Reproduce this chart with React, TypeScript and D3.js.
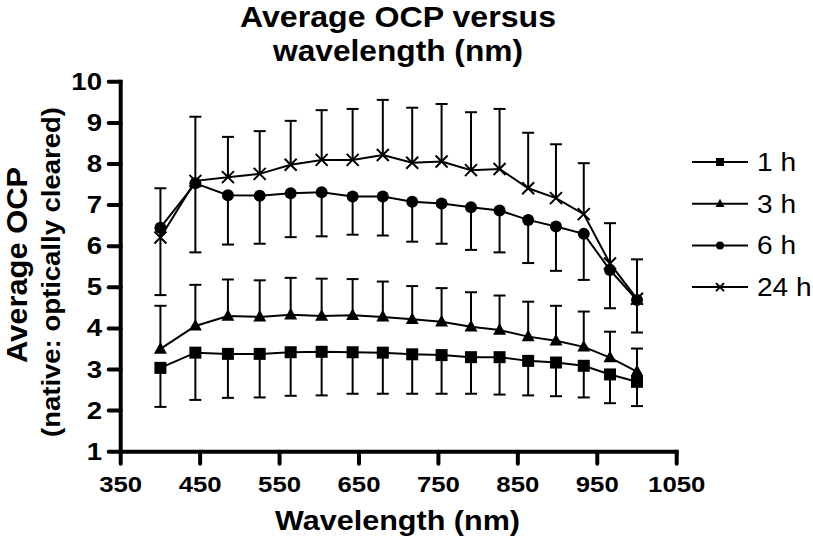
import React from "react";
import * as d3 from "d3";

const wavelengths = [400, 444, 485, 525, 564, 603, 642, 680, 717, 754, 791, 827, 863, 898, 933, 966, 1000];

const h1 = [3.04, 3.41, 3.38, 3.38, 3.42, 3.43, 3.42, 3.41, 3.37, 3.35, 3.30, 3.30, 3.21, 3.17, 3.09, 2.88, 2.70];
const h1Err = [0.95, 1.15, 1.07, 1.06, 1.06, 1.06, 1.01, 1.00, 0.96, 0.94, 0.89, 0.91, 0.84, 0.82, 0.77, 0.70, 0.59];

const h3 = [3.50, 4.06, 4.30, 4.28, 4.33, 4.30, 4.32, 4.28, 4.22, 4.16, 4.04, 3.96, 3.80, 3.70, 3.55, 3.29, 2.95];
const h3Err = [1.05, 1.00, 0.89, 0.89, 0.90, 0.91, 0.88, 0.86, 0.81, 0.82, 0.84, 0.84, 0.85, 0.85, 0.86, 0.63, 0.56];

const h6 = [6.45, 7.53, 7.24, 7.23, 7.29, 7.31, 7.21, 7.21, 7.08, 7.04, 6.95, 6.87, 6.64, 6.48, 6.30, 5.42, 4.69];
const h6Err = [1.64, 1.68, 1.20, 1.17, 1.07, 1.07, 0.93, 0.95, 0.97, 0.98, 1.04, 1.02, 1.05, 1.08, 1.12, 0.93, 0.79];

const h24 = [6.21, 7.59, 7.68, 7.76, 7.98, 8.10, 8.10, 8.22, 8.03, 8.06, 7.85, 7.88, 7.41, 7.17, 6.78, 5.58, 4.72];
const h24Err = [1.20, 1.56, 0.98, 1.04, 1.07, 1.21, 1.24, 1.34, 1.34, 1.40, 1.41, 1.46, 1.35, 1.31, 1.24, 0.98, 0.96];

const xTicks = [350, 450, 550, 650, 750, 850, 950, 1050];
const yTicks = [1, 2, 3, 4, 5, 6, 7, 8, 9, 10];

type Series = { label: string; values: number[]; errs: number[]; dir: number; marker: string };
const series: Series[] = [
  { label: "1 h", values: h1, errs: h1Err, dir: -1, marker: "square" },
  { label: "3 h", values: h3, errs: h3Err, dir: 1, marker: "triangle" },
  { label: "6 h", values: h6, errs: h6Err, dir: -1, marker: "circle" },
  { label: "24 h", values: h24, errs: h24Err, dir: 1, marker: "cross" },
];

const FONT = "'Liberation Sans', Arial, Helvetica, sans-serif";

function Marker({ kind, x, y, s }: { kind: string; x: number; y: number; s: number }) {
  if (kind === "square") return <rect x={x - s / 2} y={y - s / 2} width={s} height={s} fill="#000" />;
  if (kind === "circle") return <circle cx={x} cy={y} r={s / 2} fill="#000" />;
  if (kind === "triangle") {
    const h = s * 0.9;
    return <path d={`M${x},${y - h * 0.6} L${x + s / 2},${y + h * 0.4} L${x - s / 2},${y + h * 0.4} Z`} fill="#000" />;
  }
  const r = s / 2;
  return (
    <path d={`M${x - r},${y - r} L${x + r},${y + r} M${x - r},${y + r} L${x + r},${y - r}`} stroke="#000" strokeWidth={2} fill="none" />
  );
}

export default function App() {
  const x = d3.scaleLinear().domain([350, 1050]).range([120.7, 676.7]);
  const y = d3.scaleLinear().domain([1, 10]).range([451.7, 81.8]);
  const line = d3
    .line<number>()
    .x((_, i) => x(wavelengths[i]))
    .y((v) => y(v));
  const capW = 12;

  return (
    <svg width={813} height={543} style={{ position: "absolute", left: 0, top: 0, background: "#fff" }} fontFamily={FONT}>
      <rect width={813} height={543} fill="#fff" />
      {/* Title */}
      <text x={398} y={27} textAnchor="middle" fontSize={30} fontWeight="bold" textLength={316} lengthAdjust="spacingAndGlyphs">
        Average OCP versus
      </text>
      <text x={398} y={61} textAnchor="middle" fontSize={30} fontWeight="bold" textLength={250} lengthAdjust="spacingAndGlyphs">
        wavelength (nm)
      </text>

      {/* Y axis label */}
      <text transform="translate(27,265) rotate(-90)" textAnchor="middle" fontSize={29} fontWeight="bold" textLength={196} lengthAdjust="spacingAndGlyphs">
        Average OCP
      </text>
      <text transform="translate(60,272) rotate(-90)" textAnchor="middle" fontSize={26} fontWeight="bold" textLength={330} lengthAdjust="spacingAndGlyphs">
        (native: optically cleared)
      </text>

      {/* X axis label */}
      <text x={397.5} y={530} textAnchor="middle" fontSize={28} fontWeight="bold" textLength={245} lengthAdjust="spacingAndGlyphs">
        Wavelength (nm)
      </text>

      {/* Axes */}
      <g stroke="#000" strokeWidth={4} strokeLinecap="round" fill="none">
        <line x1={x(350)} y1={y(1)} x2={x(350)} y2={y(10)} strokeLinecap="square" />
        <line x1={x(350)} y1={y(1)} x2={x(1050)} y2={y(1)} strokeLinecap="square" />
        {yTicks.map((t) => (
          <line key={"yt" + t} x1={x(350) - 12} y1={y(t)} x2={x(350)} y2={y(t)} />
        ))}
        {xTicks.map((t) => (
          <line key={"xt" + t} x1={x(t)} y1={y(1)} x2={x(t)} y2={y(1) + 12} />
        ))}
      </g>
      <g fontSize={23} fontWeight="bold">
        {yTicks.map((t) => (
          <text key={"yl" + t} transform={`translate(102,${y(t) + 8}) scale(1.2,1)`} textAnchor="end">
            {t}
          </text>
        ))}
        {xTicks.map((t) => (
          <text key={"xl" + t} transform={`translate(${x(t)},491.5) scale(1.12,1)`} textAnchor="middle">
            {t}
          </text>
        ))}
      </g>

      {/* Error bars */}
      <g stroke="#000" strokeWidth={2} fill="none">
        {series.map((s) =>
          s.values.map((v, i) => {
            const xp = x(wavelengths[i]);
            const end = y(v + s.dir * s.errs[i]);
            return (
              <g key={s.label + "e" + i}>
                <line x1={xp} y1={y(v)} x2={xp} y2={end} />
                <line x1={xp - capW / 2} y1={end} x2={xp + capW / 2} y2={end} />
              </g>
            );
          })
        )}
      </g>

      {/* Lines */}
      {series.map((s) => (
        <path key={s.label + "l"} d={line(s.values) || ""} stroke="#000" strokeWidth={2} fill="none" />
      ))}

      {/* Markers */}
      {series.map((s) =>
        s.values.map((v, i) => (
          <Marker key={s.label + "m" + i} kind={s.marker} x={x(wavelengths[i])} y={y(v)} s={s.marker === "triangle" ? 13 : 12} />
        ))
      )}

      {/* Legend */}
      {series.map((s, i) => {
        const ly = 162 + i * 41.7;
        return (
          <g key={s.label + "leg"}>
            <line x1={692} y1={ly} x2={748} y2={ly} stroke="#000" strokeWidth={2} />
            <Marker kind={s.marker} x={720} y={ly} s={s.marker === "triangle" ? 9 : 8} />
            <text transform={`translate(757,${ly + 9}) scale(1.08,1)`} fontSize={26}>
              {s.label}
            </text>
          </g>
        );
      })}
    </svg>
  );
}
